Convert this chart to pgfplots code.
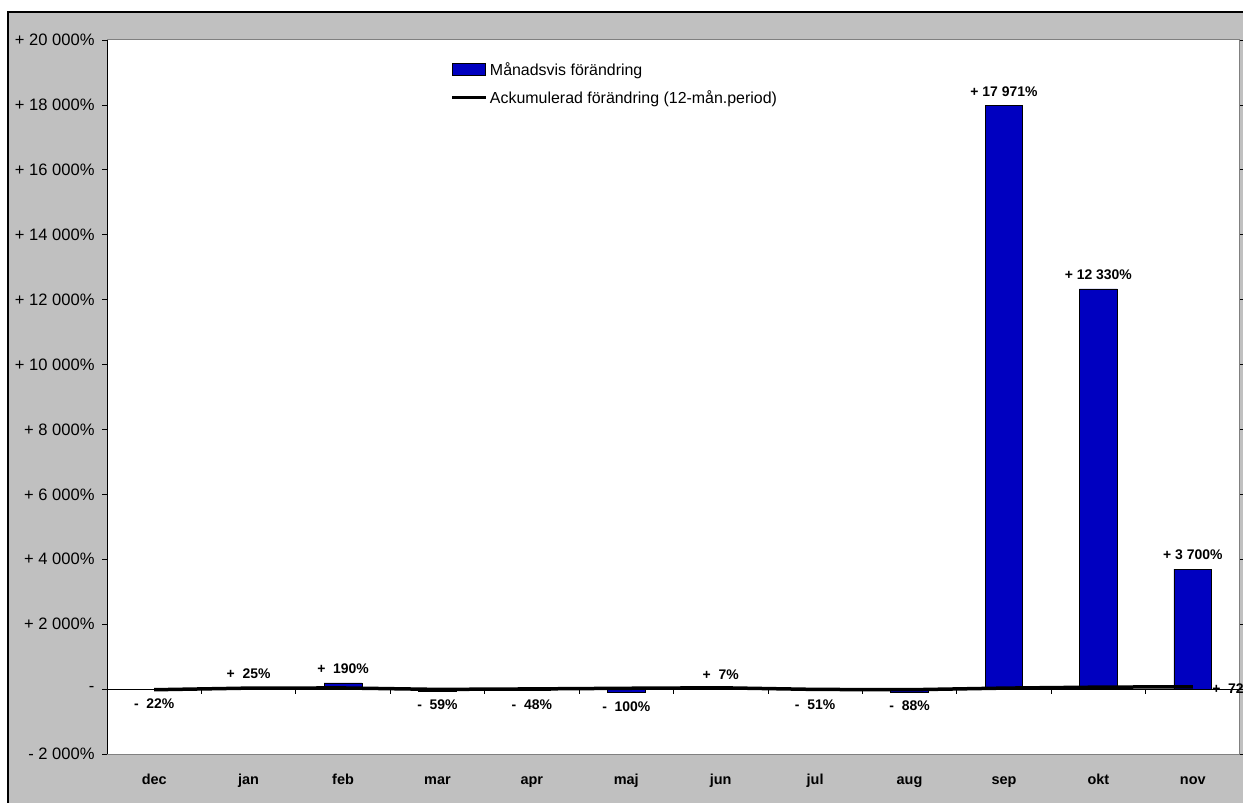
\documentclass[border=0pt]{standalone}
\usepackage{pgfplots}
\pgfplotsset{compat=1.18}
\usepackage{fontspec}
\setmainfont{Liberation Sans}
\definecolor{barblue}{RGB}{0,0,192}
\definecolor{bggray}{RGB}{192,192,192}
\definecolor{framegray}{RGB}{128,128,128}
\pgfplotstableread{
x y
0 -22
1 25
2 190
3 -59
4 -48
5 -100
6 7
7 -51
8 -88
9 17971
10 12330
11 3700
}\monthly
\pgfplotstableread{
x y lab
1 25 {+\ \ 25\%}
2 190 {+\ \ 190\%}
6 7 {+\ \ 7\%}
9 17971 {+\ 17\ 971\%}
10 12330 {+\ 12\ 330\%}
11 3700 {+\ 3\ 700\%}
}\poslab
\pgfplotstableread{
x y lab
0 -22 {-\ \ 22\%}
3 -59 {-\ \ 59\%}
4 -48 {-\ \ 48\%}
5 -100 {-\ \ 100\%}
7 -51 {-\ \ 51\%}
8 -88 {-\ \ 88\%}
}\neglab
\pgfplotstableread{
x y
0 -20
1 30
2 35
3 -10
4 5
5 25
6 40
7 -10
8 -20
9 30
10 60
11 72
}\accum
\begin{document}
\begin{tikzpicture}
\useasboundingbox (0,0) rectangle (1243bp,803bp);
\clip (0,0) rectangle (1243bp,803bp);
\fill[white] (0,0) rectangle (1243bp,803bp);
\fill[bggray] (8bp,-5bp) rectangle (1250bp,791bp);
\draw[black, line width=1.5bp] (8bp,-5bp) -- (8bp,791bp) -- (1250bp,791bp);
\begin{axis}[
  at={(107bp,49bp)}, anchor=south west,
  width=1133bp, height=714bp, scale only axis,
  axis background/.style={fill=white},
  axis line style={draw=none},
  clip=false,
  scaled y ticks=false,
  xmin=-0.5, xmax=11.5,
  ymin=-2000, ymax=20000,
  xtick={0,1,2,3,4,5,6,7,8,9,10,11},
  xticklabels={dec,jan,feb,mar,apr,maj,jun,jul,aug,sep,okt,nov},
  xtick style={draw=none},
  xticklabel style={font=\fontsize{14.5}{17}\selectfont\bfseries, anchor=center, yshift=-22bp, text height=10bp, text depth=3bp},
  ytick={-2000,0,2000,4000,6000,8000,10000,12000,14000,16000,18000,20000},
  yticklabels={-\ 2\ 000\%, -, +\ 2\ 000\%, +\ 4\ 000\%, +\ 6\ 000\%, +\ 8\ 000\%, +\ 10\ 000\%, +\ 12\ 000\%, +\ 14\ 000\%, +\ 16\ 000\%, +\ 18\ 000\%, +\ 20\ 000\%},
  yticklabel style={font=\fontsize{16.6}{19}\selectfont, anchor=east, xshift=-4bp},
  ytick style={black, line width=0.8bp},
  tick align=outside,
  major tick length=5bp,
  legend style={at={(0.303,0.972)}, anchor=north west, draw=none, fill=none, inner sep=0pt,
    font=\fontsize{16}{19}\selectfont, row sep=10bp},
  legend cell align=left,
]
\draw[framegray, line width=1bp] (rel axis cs:0,1) -- (rel axis cs:1,1) -- (rel axis cs:1,0) -- (rel axis cs:0,0);
\draw[black, line width=1bp] (rel axis cs:0,0) -- (rel axis cs:0,1);
\addplot[ybar, bar width=0.4, fill=barblue, draw=black, line width=0.8bp,
  legend image code/.code={\draw[fill=barblue,draw=black,line width=0.8bp] (0bp,-6bp) rectangle (33bp,6bp);}]
  table[x=x, y=y] {\monthly};
\addlegendentry{Månadsvis förändring}
\addplot[black, line width=3.5bp, mark=none,
  legend image code/.code={\draw[black,line width=3.5bp] (0bp,0bp) -- (34bp,0bp);}]
  table[x=x, y=y] {\accum};
\addlegendentry{Ackumulerad förändring (12-mån.period)}
\draw[black, line width=0.8bp] (axis cs:-0.5,0) -- (axis cs:11.5,0);
\draw[black, line width=0.8bp] (axis cs:0.5,0) -- ([yshift=-5bp]axis cs:0.5,0);
\draw[black, line width=0.8bp] (axis cs:1.5,0) -- ([yshift=-5bp]axis cs:1.5,0);
\draw[black, line width=0.8bp] (axis cs:2.5,0) -- ([yshift=-5bp]axis cs:2.5,0);
\draw[black, line width=0.8bp] (axis cs:3.5,0) -- ([yshift=-5bp]axis cs:3.5,0);
\draw[black, line width=0.8bp] (axis cs:4.5,0) -- ([yshift=-5bp]axis cs:4.5,0);
\draw[black, line width=0.8bp] (axis cs:5.5,0) -- ([yshift=-5bp]axis cs:5.5,0);
\draw[black, line width=0.8bp] (axis cs:6.5,0) -- ([yshift=-5bp]axis cs:6.5,0);
\draw[black, line width=0.8bp] (axis cs:7.5,0) -- ([yshift=-5bp]axis cs:7.5,0);
\draw[black, line width=0.8bp] (axis cs:8.5,0) -- ([yshift=-5bp]axis cs:8.5,0);
\draw[black, line width=0.8bp] (axis cs:9.5,0) -- ([yshift=-5bp]axis cs:9.5,0);
\draw[black, line width=0.8bp] (axis cs:10.5,0) -- ([yshift=-5bp]axis cs:10.5,0);
\addplot[draw=none, mark=none, forget plot,
  nodes near coords, point meta=explicit symbolic,
  every node near coord/.append style={font=\fontsize{14}{16}\selectfont\bfseries, black, anchor=south, inner ysep=9bp}]
  table[x=x, y=y, meta=lab] {\poslab};
\addplot[draw=none, mark=none, forget plot,
  nodes near coords, point meta=explicit symbolic,
  every node near coord/.append style={font=\fontsize{14}{16}\selectfont\bfseries, black, anchor=north, inner ysep=9bp}]
  table[x=x, y=y, meta=lab] {\neglab};
\addplot[draw=none, mark=none, forget plot,
  nodes near coords={+\ \ 72\%},
  every node near coord/.append style={font=\fontsize{14}{16}\selectfont\bfseries, black, anchor=west, xshift=16bp, yshift=-2bp}]
  coordinates {(11,72)};
\end{axis}
\end{tikzpicture}
\end{document}
